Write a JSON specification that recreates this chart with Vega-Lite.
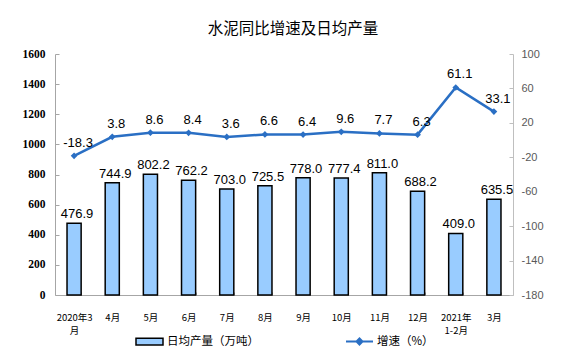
{
  "$schema": "https://vega.github.io/schema/vega-lite/v6.json",
  "autosize": "none",
  "width": 458,
  "height": 241,
  "padding": {"left": 55, "top": 54, "right": 63, "bottom": 62},
  "background": "white",
  "title": {
    "text": "水泥同比增速及日均产量",
    "font": "Noto Sans CJK SC",
    "fontSize": 15.5,
    "fontWeight": "normal",
    "color": "#000000",
    "anchor": "middle",
    "offset": 11,
    "dx": 9
  },
  "config": {
    "view": {"stroke": null},
    "axis": {"grid": false}
  },
  "data": {
    "values": [
      {"month": "2020年3|月", "prod": 476.9, "growth": -18.3},
      {"month": "4月", "prod": 744.9, "growth": 3.8},
      {"month": "5月", "prod": 802.2, "growth": 8.6},
      {"month": "6月", "prod": 762.2, "growth": 8.4},
      {"month": "7月", "prod": 703.0, "growth": 3.6},
      {"month": "8月", "prod": 725.5, "growth": 6.6},
      {"month": "9月", "prod": 778.0, "growth": 6.4},
      {"month": "10月", "prod": 777.4, "growth": 9.6},
      {"month": "11月", "prod": 811.0, "growth": 7.7},
      {"month": "12月", "prod": 688.2, "growth": 6.3},
      {"month": "2021年|1-2月", "prod": 409.0, "growth": 61.1},
      {"month": "3月", "prod": 635.5, "growth": 33.1}
    ]
  },
  "encoding": {
    "x": {
      "field": "month",
      "type": "nominal",
      "sort": null,
      "scale": {"paddingInner": 0.63, "paddingOuter": 0.315},
      "axis": {
        "title": null,
        "labelAngle": 0,
        "labelExpr": "split(datum.label, '|')",
        "labelFont": "Noto Sans CJK SC",
        "labelFontSize": 9.5,
        "labelColor": "#000000",
        "labelLineHeight": 13,
        "labelPadding": 20,
        "domainColor": "#A6A6A6",
        "tickColor": "#A6A6A6",
        "tickBand": "extent",
        "tickSize": -3
      }
    }
  },
  "layer": [
    {
      "mark": {"type": "bar", "stroke": "#000000", "strokeWidth": 1.5},
      "encoding": {
        "y": {
          "field": "prod",
          "type": "quantitative",
          "scale": {"domain": [0, 1600], "nice": false},
          "axis": {
            "title": null,
            "orient": "left",
            "values": [0, 200, 400, 600, 800, 1000, 1200, 1400, 1600],
            "format": "d",
            "labelFont": "Liberation Serif",
            "labelFontWeight": "bold",
            "labelFontSize": 11.5,
            "labelColor": "#000000",
            "labelPadding": 14,
            "domainColor": "#A6A6A6",
            "tickColor": "#A6A6A6",
            "tickSize": -4
          }
        },
        "fill": {
          "datum": "日均产量（万吨）",
          "scale": {"range": ["#99CCFF"]},
          "legend": {
            "title": null,
            "orient": "none",
            "legendX": 80,
            "legendY": 273,
            "symbolType": "M-1,-0.25H1V0.25H-1Z",
            "symbolSize": 729,
            "symbolStrokeColor": "#000000",
            "symbolStrokeWidth": 1.5,
            "labelFont": "Noto Sans CJK SC",
            "labelFontSize": 11.5,
            "labelColor": "#000000",
            "labelOffset": 3
          }
        }
      }
    },
    {
      "mark": {"type": "text", "baseline": "alphabetic", "dy": -5, "dx": 3, "font": "Liberation Sans", "fontSize": 13, "color": "#000000"},
      "encoding": {
        "y": {"field": "prod", "type": "quantitative", "scale": {"domain": [0, 1600], "nice": false}, "axis": null},
        "text": {"field": "prod", "type": "quantitative", "format": ".1f"}
      }
    },
    {
      "mark": {"type": "line", "strokeWidth": 2.5},
      "encoding": {
        "y": {
          "field": "growth",
          "type": "quantitative",
          "scale": {"domain": [-180, 100], "nice": false},
          "axis": {
            "title": null,
            "orient": "right",
            "values": [100, 60, 20, -20, -60, -100, -140, -180],
            "labelExpr": "'' + datum.value",
            "labelFont": "Liberation Sans",
            "labelFontSize": 11,
            "labelColor": "#595959",
            "labelPadding": 12,
            "domainColor": "#BFBFBF",
            "tickColor": "#BFBFBF",
            "tickSize": -4
          }
        },
        "stroke": {
          "datum": "增速（%）",
          "scale": {"range": ["#2A6FC4"]},
          "legend": {
            "title": null,
            "orient": "none",
            "legendX": 290,
            "legendY": 273,
            "symbolType": "M-1,0H1M-0.22,0L0,-0.22L0.22,0L0,0.22Z",
            "symbolSize": 729,
            "symbolStrokeWidth": 2,
            "symbolFillColor": "#2A6FC4",
            "labelFont": "Noto Sans CJK SC",
            "labelFontSize": 11.5,
            "labelColor": "#000000",
            "labelOffset": 3
          }
        }
      }
    },
    {
      "mark": {"type": "point", "shape": "diamond", "filled": true, "size": 45, "color": "#2A6FC4", "opacity": 1},
      "encoding": {
        "y": {"field": "growth", "type": "quantitative", "scale": {"domain": [-180, 100], "nice": false}, "axis": null}
      }
    },
    {
      "mark": {"type": "text", "baseline": "alphabetic", "dy": -9, "dx": 4, "font": "Liberation Sans", "fontSize": 13, "color": "#000000"},
      "encoding": {
        "y": {"field": "growth", "type": "quantitative", "scale": {"domain": [-180, 100], "nice": false}, "axis": null},
        "text": {"field": "growth", "type": "nominal"}
      }
    }
  ],
  "resolve": {"scale": {"y": "independent"}}
}
